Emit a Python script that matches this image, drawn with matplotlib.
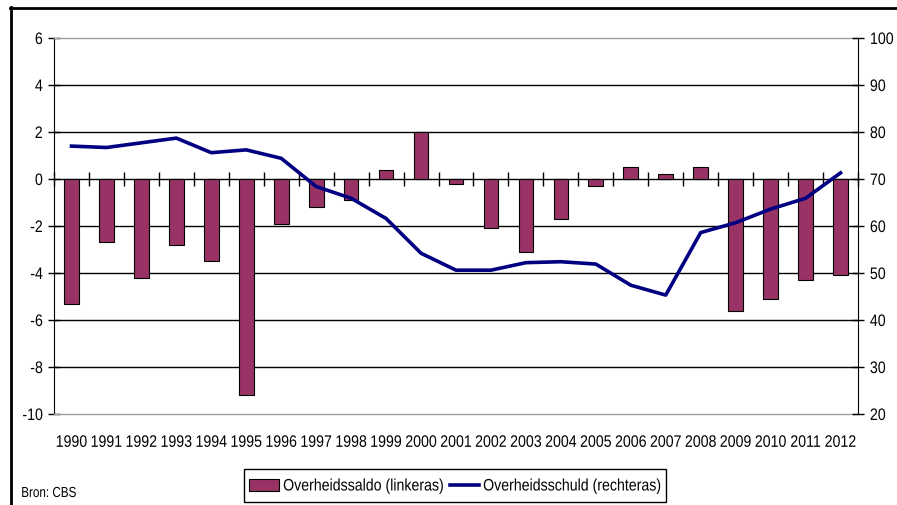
import matplotlib
matplotlib.use("Agg")
import matplotlib.pyplot as plt
import numpy as np
from matplotlib.lines import Line2D
from matplotlib.patches import Rectangle
from matplotlib.patheffects import AbstractPathEffect
from matplotlib.transforms import Affine2D

plt.rcParams['font.family'] = ['Liberation Sans', 'DejaVu Sans']

years = [str(y) for y in range(1990, 2013)]
saldo = [-5.3, -2.7, -4.2, -2.8, -3.5, -9.2, -1.9, -1.2, -0.9, 0.4, 2.0, -0.2,
         -2.1, -3.1, -1.7, -0.3, 0.5, 0.2, 0.5, -5.6, -5.1, -4.3, -4.1]
schuld = [77.0, 76.7, 77.7, 78.7, 75.6, 76.2, 74.4, 68.4, 65.9, 61.6, 54.2, 50.6,
          50.6, 52.2, 52.4, 51.9, 47.4, 45.3, 58.6, 60.7, 63.6, 65.9, 71.3]
left_ticks = list(range(-10, 7, 2))
right_ticks = list(range(20, 101, 10))
label_saldo = 'Overheidssaldo (linkeras)'
label_schuld = 'Overheidsschuld (rechteras)'
source = 'Bron: CBS'

BAR_COLOR = '#993366'
LINE_COLOR = '#000080'


class Squeeze(AbstractPathEffect):
    """Horizontally condense text glyphs (narrow-font look)."""

    def __init__(self, sx=0.85, anchor='center'):
        super().__init__()
        self.sx = sx
        self.anchor = anchor

    def draw_path(self, renderer, gc, tpath, affine, rgbFace=None):
        if len(tpath.vertices) == 0:
            return
        ext = tpath.get_extents(affine)
        if self.anchor == 'left':
            cx = ext.x0
        elif self.anchor == 'right':
            cx = ext.x1
        else:
            cx = 0.5 * (ext.x0 + ext.x1)
        new = affine + Affine2D().translate(-cx, 0).scale(self.sx, 1).translate(cx, 0)
        renderer.draw_path(gc, tpath, new, rgbFace)


W, H = 897, 505
fig = plt.figure(figsize=(W / 100, H / 100), dpi=100)


def fx(x):
    return x / W


def fy(y):
    return 1 - y / H


ax = fig.add_axes([fx(54), fy(414), (858 - 54) / W, (414 - 38) / H])
x = np.arange(len(years))

bars = ax.bar(x, saldo, width=0.42, color=BAR_COLOR, edgecolor='black',
              linewidth=0.8, zorder=3)
ax.set_xlim(-0.5, len(years) - 0.5)
ax.set_ylim(-10, 6)
ax.set_yticks(left_ticks)
ax.set_yticklabels([str(t) for t in left_ticks])
for t in left_ticks[1:-1]:
    ax.axhline(t, color='black', linewidth=1.0, zorder=1)

ax.set_xticks(x)
ax.set_xticklabels(years)
ax.tick_params(axis='x', length=0, pad=15, labelsize=12)
ax.tick_params(axis='y', direction='inout', length=8, width=1, pad=4, labelsize=12)

for s in ['top', 'bottom']:
    ax.spines[s].set_color('#a0a0a0')
    ax.spines[s].set_linewidth(1.0)
ax.spines['left'].set_color('black')
ax.spines['right'].set_visible(False)

# category axis crossing at 0
sec = ax.secondary_xaxis(10 / 16)
sec.set_xticks([])
sec.set_xticks(np.arange(-0.5, len(years), 1.0), minor=True)
sec.tick_params(axis='x', which='minor', direction='inout', length=10, width=1,
                labelbottom=False, labeltop=False)
sec.tick_params(axis='x', which='major', length=0, labelbottom=False, labeltop=False)
sec.spines['bottom'].set_color('black')
sec.spines['bottom'].set_linewidth(1.2)
for s in ['top', 'left', 'right']:
    if s in sec.spines:
        sec.spines[s].set_visible(False)

ax2 = ax.twinx()
ax2.plot(x, schuld, color=LINE_COLOR, linewidth=2.6, zorder=4, solid_joinstyle='round')
ax2.set_ylim(20, 100)
ax2.set_yticks(right_ticks)
ax2.set_yticklabels([str(t) for t in right_ticks])
ax2.tick_params(axis='y', direction='inout', length=8, width=1, pad=4.5, labelsize=12)
for s in ['top', 'bottom', 'left']:
    ax2.spines[s].set_visible(False)
ax2.spines['right'].set_color('black')

SQ = 0.85
for t in ax.xaxis.get_major_ticks():
    t.label1.set_path_effects([Squeeze(SQ, 'center')])
for t in ax.yaxis.get_major_ticks():
    t.label1.set_path_effects([Squeeze(SQ, 'right')])
for t in ax2.yaxis.get_major_ticks():
    t.label2.set_path_effects([Squeeze(SQ, 'left')])

# legend (drawn as a framed key below the plot)
fig.add_artist(Rectangle((fx(244), fy(502)), (666 - 244) / W, (502 - 469) / H,
                         transform=fig.transFigure, facecolor='white',
                         edgecolor='black', linewidth=1.0))
fig.add_artist(Rectangle((fx(249), fy(491)), (279 - 249) / W, (491 - 479) / H,
                         transform=fig.transFigure, facecolor=BAR_COLOR,
                         edgecolor='black', linewidth=0.8))
fig.text(fx(283), fy(486), label_saldo, fontsize=12, ha='left', va='center',
         path_effects=[Squeeze(SQ, 'left')])
fig.add_artist(Line2D([fx(450), fx(479)], [fy(485), fy(485)], color=LINE_COLOR,
                      linewidth=2.6, transform=fig.transFigure))
fig.text(fx(483), fy(486), label_schuld, fontsize=12, ha='left', va='center',
         path_effects=[Squeeze(SQ, 'left')])

fig.text(fx(21), fy(493), source, fontsize=10.5, va='center', ha='left',
         path_effects=[Squeeze(0.8, 'left')])

# outer frame
fig.add_artist(Line2D([fx(10), 1.0], [fy(7.5), fy(7.5)], color='black', linewidth=2))
fig.add_artist(Line2D([fx(10.5), fx(10.5)], [0, fy(6.5)], color='black', linewidth=2))

fig.savefig('out.png', dpi=100)
